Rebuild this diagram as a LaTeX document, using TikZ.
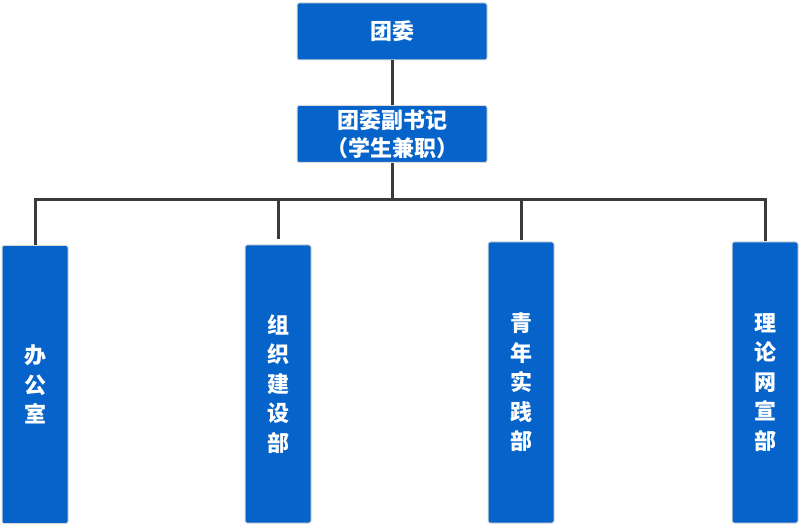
\documentclass[tikz,border=0pt]{standalone}
\usepackage{fontspec}
\newfontfamily\cjk{Noto Sans CJK SC}
\definecolor{boxblue}{RGB}{5,99,201}
\definecolor{linegray}{RGB}{58,58,58}
\begin{document}
\begin{tikzpicture}[x=1pt,y=-1pt,
  unit/.style={draw=black!15,line width=1pt,fill=boxblue,rounded corners=2pt,
    text=white,font=\cjk\bfseries\fontsize{22}{28}\selectfont,align=center,inner sep=0pt},
  head/.style={unit,minimum width=190pt,minimum height=57pt},
  dept/.style={unit,minimum width=66pt,minimum height=278pt,text width=66pt,
    font=\cjk\bfseries\fontsize{22}{29.5}\selectfont},
  link/.style={draw=linegray,line width=3pt}]
\useasboundingbox (0,0) rectangle (800,526);
\def\bus{200}
\node [head, name=tw]  at (392,31.5) {团委};
\node [head, name=fsj] at (392,134) {团委副书记\\（学生兼职）};
\node [dept, name=d1] at (35,384.5) {办\\公\\室};
\node [dept, name=d2, minimum height=278pt] at (278,384) {组\\织\\建\\设\\部};
\node [dept, name=d3, minimum height=281pt] at (521,382.5) {青\\年\\实\\践\\部};
\node [dept, name=d4, minimum height=281pt] at (765,382.5) {理\\论\\网\\宣\\部};
\coordinate (bus) at (392,\bus);
\draw [link] (tw) -- (fsj);
\draw [link] (fsj) -- (bus);
\draw [link] (bus) -| (d1);
\draw [link] (bus) -| (d4);
\draw [link,shorten >=5pt] (bus) -| (d2);
\draw [link,shorten >=1pt] (bus) -| (d3);
\end{tikzpicture}
\end{document}
